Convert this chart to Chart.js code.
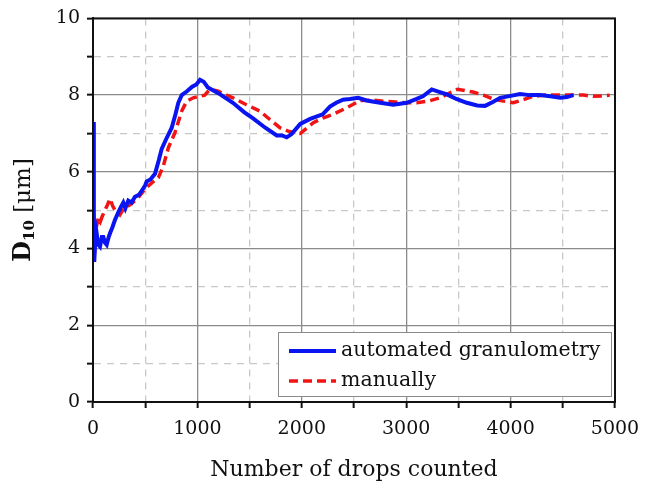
<!DOCTYPE html>
<html lang="en">
<head>
<meta charset="UTF-8" />
<title>D10 vs number of drops counted</title>
<script src="https://cdn.jsdelivr.net/npm/chart.js"></script>
<style>
  html, body { margin: 0; padding: 0; background: #fff; }
</style>
</head>
<body>
<canvas id="d10Chart" width="645" height="497"></canvas>
<script>
// automated granulometry (blue, solid)
var autoX = [3, 8, 12, 20, 35, 50, 67, 85, 99, 115, 131, 150, 163, 185, 211, 243, 270, 290, 310, 338, 370, 402, 440, 466, 500, 514, 550, 594, 630, 658, 700, 754, 790, 817, 850, 900, 950, 990, 1025, 1060, 1100, 1200, 1340, 1450, 1530, 1650, 1760, 1810, 1855, 1900, 1985, 2080, 2200, 2270, 2330, 2395, 2460, 2540, 2620, 2750, 2875, 3005, 3100, 3160, 3245, 3300, 3390, 3480, 3580, 3680, 3755, 3830, 3900, 4000, 4090, 4180, 4280, 4380, 4475, 4540, 4600];
var autoY = [7.3, 5.0, 3.65, 4.1, 4.4, 4.1, 4.05, 4.3, 4.3, 4.15, 4.1, 4.3, 4.4, 4.55, 4.75, 4.95, 5.1, 5.2, 5.05, 5.25, 5.2, 5.35, 5.4, 5.5, 5.65, 5.75, 5.8, 5.95, 6.3, 6.6, 6.85, 7.15, 7.5, 7.8, 8.0, 8.1, 8.22, 8.28, 8.4, 8.35, 8.2, 8.05, 7.8, 7.55, 7.4, 7.15, 6.95, 6.95, 6.9, 6.98, 7.25, 7.38, 7.5, 7.7, 7.8, 7.88, 7.9, 7.93, 7.86, 7.8, 7.75, 7.8, 7.9, 7.97, 8.15, 8.1, 8.02, 7.9, 7.8, 7.73, 7.72, 7.82, 7.93, 7.98, 8.03, 8.0, 8.0, 7.97, 7.93, 7.95, 8.0];

// manual counting (red, dashed)
var manX = [2, 6, 10, 14, 18, 25, 35, 51, 70, 90, 115, 140, 163, 190, 211, 235, 258, 285, 306, 370, 434, 498, 562, 626, 674, 722, 785, 849, 897, 960, 1025, 1070, 1120, 1200, 1340, 1470, 1600, 1700, 1790, 1880, 1985, 2110, 2200, 2300, 2430, 2560, 2680, 2780, 2900, 3000, 3100, 3220, 3325, 3410, 3490, 3560, 3640, 3740, 3830, 3920, 4025, 4120, 4215, 4330, 4475, 4600, 4700, 4790, 4880, 4950];
var manY = [5.3, 4.9, 4.3, 3.85, 4.6, 4.4, 4.6, 4.8, 4.7, 4.85, 5.0, 5.15, 5.3, 5.1, 5.0, 4.95, 4.88, 5.0, 5.05, 5.17, 5.33, 5.55, 5.71, 5.85, 6.16, 6.63, 7.02, 7.58, 7.84, 7.93, 7.97, 8.0, 8.15, 8.1, 7.93, 7.75, 7.58, 7.35, 7.15, 7.05, 7.0, 7.28, 7.4, 7.5, 7.67, 7.86, 7.87, 7.84, 7.82, 7.8, 7.8, 7.85, 7.93, 8.05, 8.15, 8.12, 8.08, 8.0, 7.9, 7.85, 7.8, 7.88, 7.97, 8.0, 8.0, 8.0, 8.0, 7.97, 7.98, 8.0];

var seriesNames = ['automated granulometry', 'manually'];
var xTitle = 'Number of drops counted';

var fontFamily = "'DejaVu Serif', 'Liberation Serif', serif";

function toPoints(xs, ys) {
    return xs.map(function (x, i) { return { x: x, y: ys[i] }; });
}

function isMinor(ctx, step) {
    return ctx.tick && Math.round(ctx.tick.value) % step !== 0;
}

// frame, legend box and the y title with a subscript
var extras = {
    id: 'extras',
    afterDraw: function (chart) {
        var c = chart.ctx, a = chart.chartArea;
        c.save();
        c.strokeStyle = '#111';
        c.lineWidth = 2;
        c.strokeRect(a.left, a.top, a.right - a.left, a.bottom - a.top);

        // legend
        var lx = 278, ly = 332, lw = 333, lh = 64;
        c.fillStyle = '#fff';
        c.fillRect(lx, ly, lw, lh);
        c.strokeStyle = '#8a8a8a';
        c.lineWidth = 1;
        c.strokeRect(lx + 0.5, ly + 0.5, lw, lh);
        var ds = chart.data.datasets;
        var rows = [ly + 19, ly + 49];
        for (var i = 0; i < ds.length; i++) {
            c.beginPath();
            c.strokeStyle = ds[i].borderColor;
            c.lineWidth = ds[i].borderWidth;
            c.setLineDash(ds[i].borderDash || []);
            c.moveTo(lx + 11, rows[i]);
            c.lineTo(lx + 58, rows[i]);
            c.stroke();
            c.setLineDash([]);
            c.fillStyle = '#111';
            c.font = '20.5px ' + fontFamily;
            c.textBaseline = 'middle';
            c.textAlign = 'left';
            c.fillText(ds[i].label, lx + 63, rows[i]);
        }

        // y title: D10 [µm]
        var parts = [
            { t: 'D', f: 'bold 24px ' + fontFamily, dy: 0 },
            { t: '10', f: 'bold 15px ' + fontFamily, dy: 6 },
            { t: ' [\u03bcm]', f: '23px ' + fontFamily, dy: 0 }
        ];
        var total = 0;
        parts.forEach(function (p) { c.font = p.f; p.w = c.measureText(p.t).width; total += p.w; });
        c.translate(24, 210);
        c.rotate(-Math.PI / 2);
        c.textBaseline = 'middle';
        c.fillStyle = '#111';
        var x = -total / 2;
        parts.forEach(function (p) {
            c.font = p.f;
            c.fillText(p.t, x, p.dy);
            x += p.w;
        });
        c.restore();
    }
};

var ctx = document.getElementById('d10Chart').getContext('2d');

var myChart = new Chart(ctx, {
    type: 'line',
    data: {
        datasets: [{
            label: seriesNames[0],
            data: toPoints(autoX, autoY),
            borderColor: '#0a14f0',
            borderWidth: 4,
            pointRadius: 0,
            tension: 0,
            fill: false
        }, {
            label: seriesNames[1],
            data: toPoints(manX, manY),
            borderColor: '#f01414',
            borderWidth: 3.5,
            borderDash: [9, 5],
            pointRadius: 0,
            tension: 0,
            fill: false
        }]
    },
    options: {
        responsive: false,
        animation: false,
        layout: { padding: { left: 0, right: 30, top: 17, bottom: 0 } },
        plugins: {
            legend: { display: false },
            tooltip: { enabled: false }
        },
        scales: {
            x: {
                type: 'linear',
                min: 0,
                max: 5000,
                afterFit: function (s) {
                    s.height = 95;
                    s.paddingLeft = 0;
                    s.paddingRight = 0;
                },
                ticks: {
                    stepSize: 500,
                    autoSkip: false,
                    maxRotation: 0,
                    padding: 10,
                    color: '#111',
                    font: { family: fontFamily, size: 19 },
                    callback: function (v) { return v % 1000 === 0 ? v : ''; }
                },
                grid: {
                    color: function (c) { return isMinor(c, 1000) ? '#c8c8c8' : '#8c8c8c'; },
                    lineWidth: 1.3,
                    tickColor: '#111',
                    tickLength: 6,
                    tickWidth: 2
                },
                border: {
                    color: '#111',
                    width: 2,
                    dash: function (c) { return isMinor(c, 1000) ? [7, 6] : []; }
                },
                title: {
                    display: true,
                    text: xTitle,
                    color: '#111',
                    font: { family: fontFamily, size: 22 },
                    padding: { top: 4, bottom: 14 }
                }
            },
            y: {
                min: 0,
                max: 10,
                afterFit: function (s) { s.width = 93; },
                ticks: {
                    stepSize: 1,
                    autoSkip: false,
                    padding: 7,
                    color: '#111',
                    font: { family: fontFamily, size: 19 },
                    callback: function (v) { return v % 2 === 0 ? v : ''; }
                },
                grid: {
                    color: function (c) { return isMinor(c, 2) ? '#c8c8c8' : '#8c8c8c'; },
                    lineWidth: 1.3,
                    tickColor: '#111',
                    tickLength: 6,
                    tickWidth: 2
                },
                border: {
                    color: '#111',
                    width: 2,
                    dash: function (c) { return isMinor(c, 2) ? [7, 6] : []; }
                }
            }
        }
    },
    plugins: [extras]
});
</script>
</body>
</html>
